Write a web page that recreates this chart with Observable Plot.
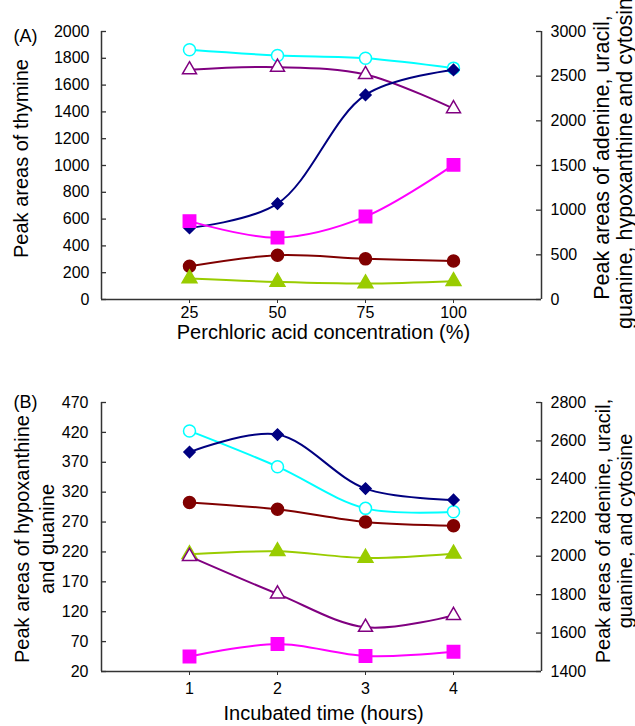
<!DOCTYPE html>
<html><head><meta charset="utf-8">
<script src="https://cdn.jsdelivr.net/npm/d3@7"></script>
<script src="https://cdn.jsdelivr.net/npm/@observablehq/plot@0.6"></script>
<style>body{margin:0;background:#fff;} #chart svg{display:block;overflow:visible}</style>
</head><body><div id="chart"></div>
<script>
// ---------- Panel A: Perchloric acid concentration ----------
const concA = [25, 50, 75, 100];
const aLeftTicks = [0, 200, 400, 600, 800, 1000, 1200, 1400, 1600, 1800, 2000];
const aRightTicks = [0, 500, 1000, 1500, 2000, 2500, 3000];
// left axis (thymine)
const aSquare = [585, 462, 619, 1005];
// right axis (adenine, uracil, guanine, hypoxanthine, cytosine)
const aOpenCircle = [2796, 2732, 2701, 2590];
const aOpenTriangle = [2572, 2601, 2519, 2136];
const aDiamond = [801, 1073, 2290, 2570];
const aFilledCircle = [372, 495, 455, 430];
const aFilledTriangle = [235, 197, 179, 205];

// ---------- Panel B: Incubated time ----------
const timeB = [1, 2, 3, 4];
const bLeftTicks = [20, 70, 120, 170, 220, 270, 320, 370, 420, 470];
const bRightTicks = [1400, 1600, 1800, 2000, 2200, 2400, 2600, 2800];
// left axis (hypoxanthine and guanine)
const bSquare = [45, 66, 46, 53];
const bFilledTriangle = [216, 221, 210, 217];
// right axis (adenine, uracil, cytosine)
const bDiamond = [2542, 2633, 2352, 2293];
const bOpenCircle = [2652, 2466, 2249, 2231];
const bFilledCircle = [2280, 2244, 2178, 2159];
const bOpenTriangle = [1999, 1804, 1630, 1692];

// ---------- styles ----------
const styles = {
  openCircle:     {color: "#00FFFF", symbol: "circle",   r: 6,   open: true},
  openTriangle:   {color: "#800080", symbol: "triangle", r: 5.2, open: true},
  diamond:        {color: "#000080", symbol: "diamond2", r: 5,   open: false},
  square:         {color: "#FF00FF", symbol: "square",   r: 7,   open: false},
  filledCircle:   {color: "#800000", symbol: "circle",   r: 6,   open: false},
  filledTriangle: {color: "#99CC00", symbol: "triangle", r: 5.5, open: false}
};
const FONT = "'Liberation Sans', Arial, Helvetica, sans-serif";
const AX = "#333";

function seriesMarks(xs, values, style, map) {
  const rows = xs.map((x, i) => ({x, y: map(values[i])}));
  return [
    Plot.line(rows, {x: "x", y: "y", curve: "catmull-rom", stroke: style.color, strokeWidth: 2}),
    Plot.dot(rows, {x: "x", y: "y", symbol: style.symbol, r: style.r,
      fill: style.open ? "white" : style.color, stroke: style.color, strokeWidth: 1.5})
  ];
}

function panel(cfg) {
  const frameW = 635 - cfg.marginLeft - cfg.marginRight;
  const toLeft = d3.scaleLinear().domain(cfg.rightDomain).range(cfg.leftDomain);
  const id = v => v;
  const marks = [
    Plot.ruleY([cfg.leftDomain[0]], {stroke: AX, strokeWidth: 1.5}),
    Plot.ruleX(cfg.xDomain, {stroke: AX, strokeWidth: 1.5}),
    Plot.tickY(cfg.leftTicks, {y: d => d, insetRight: frameW - 5, stroke: AX, strokeWidth: 1.3}),
    Plot.tickY(cfg.rightTicks.map(toLeft), {y: d => d, insetLeft: frameW - 5, stroke: AX, strokeWidth: 1.3}),
    Plot.axisX({ticks: cfg.xTicks, tickSize: 4, tickPadding: cfg.xPad, label: null, fontSize: 16, stroke: AX,
      tickFormat: d => String(d)}),
    Plot.axisY({ticks: cfg.leftTicks, tickSize: 0, tickPadding: cfg.leftPad, label: null, fontSize: 16,
      tickFormat: d => String(d)}),
    Plot.axisY(cfg.rightTicks.map(toLeft), {anchor: "right", tickSize: 0, tickPadding: 9, label: null, fontSize: 16,
      tickFormat: d => String(Math.round(toLeft.invert(d)))})
  ];
  for (const s of cfg.series) {
    marks.push(...seriesMarks(cfg.xs, s.values, styles[s.style], s.axis === "left" ? id : toLeft));
  }
  for (const t of cfg.texts) {
    marks.push(Plot.text([t.text], {text: d => d, frameAnchor: t.anchor, rotate: t.rotate || 0,
      dx: t.dx, dy: t.dy, fontSize: t.size, textAnchor: "middle", lineAnchor: "middle", fill: "#000"}));
  }
  return Plot.plot({
    width: 635, height: cfg.height,
    marginLeft: cfg.marginLeft, marginRight: cfg.marginRight,
    marginTop: cfg.marginTop, marginBottom: cfg.marginBottom,
    x: {domain: cfg.xDomain},
    y: {domain: cfg.leftDomain},
    style: {fontFamily: FONT, fontSize: "16px", color: "#000", background: "white", overflow: "visible"},
    marks
  });
}

const chartA = panel({
  height: 352, marginLeft: 101, marginRight: 94, marginTop: 31, marginBottom: 53,
  xs: concA, xDomain: [0, 125], xTicks: concA, xPad: 3, leftPad: 12,
  leftDomain: [0, 2000], rightDomain: [0, 3000],
  leftTicks: aLeftTicks, rightTicks: aRightTicks,
  series: [
    {values: aOpenCircle, style: "openCircle", axis: "right"},
    {values: aOpenTriangle, style: "openTriangle", axis: "right"},
    {values: aDiamond, style: "diamond", axis: "right"},
    {values: aSquare, style: "square", axis: "left"},
    {values: aFilledCircle, style: "filledCircle", axis: "right"},
    {values: aFilledTriangle, style: "filledTriangle", axis: "right"}
  ],
  texts: [
    {text: "(A)", anchor: "top-left", dx: -76, dy: 5, size: 18},
    {text: "Peak areas of thymine", anchor: "left", rotate: -90, dx: -80, dy: -7, size: 20},
    {text: "Peak areas of adenine, uracil,", anchor: "right", rotate: -90, dx: 61, dy: -8, size: 21.5},
    {text: "guanine, hypoxanthine and cytosine", anchor: "right", rotate: -90, dx: 84, dy: -8, size: 21.5},
    {text: "Perchloric acid concentration (%)", anchor: "bottom", dx: 2, dy: 33, size: 20}
  ]
});

const chartB = panel({
  height: 374, marginLeft: 101, marginRight: 94, marginTop: 50, marginBottom: 55,
  xs: timeB, xDomain: [0, 5], xTicks: timeB, xPad: 7, leftPad: 13,
  leftDomain: [20, 470], rightDomain: [1400, 2800],
  leftTicks: bLeftTicks, rightTicks: bRightTicks,
  series: [
    {values: bOpenCircle, style: "openCircle", axis: "right"},
    {values: bDiamond, style: "diamond", axis: "right"},
    {values: bFilledCircle, style: "filledCircle", axis: "right"},
    {values: bFilledTriangle, style: "filledTriangle", axis: "left"},
    {values: bOpenTriangle, style: "openTriangle", axis: "right"},
    {values: bSquare, style: "square", axis: "left"}
  ],
  texts: [
    {text: "(B)", anchor: "top-left", dx: -76, dy: 0, size: 18},
    {text: "Peak areas of hypoxanthine", anchor: "left", rotate: -90, dx: -79, dy: 2, size: 20},
    {text: "and guanine", anchor: "left", rotate: -90, dx: -54, dy: 2, size: 20},
    {text: "Peak areas of adenine, uracil,", anchor: "right", rotate: -90, dx: 62, dy: -6, size: 20},
    {text: "guanine, and cytosine", anchor: "right", rotate: -90, dx: 84, dy: -6, size: 20},
    {text: "Incubated time (hours)", anchor: "bottom", dx: 2, dy: 42, size: 20}
  ]
});

document.getElementById("chart").append(chartA, chartB);
</script>
</body></html>
